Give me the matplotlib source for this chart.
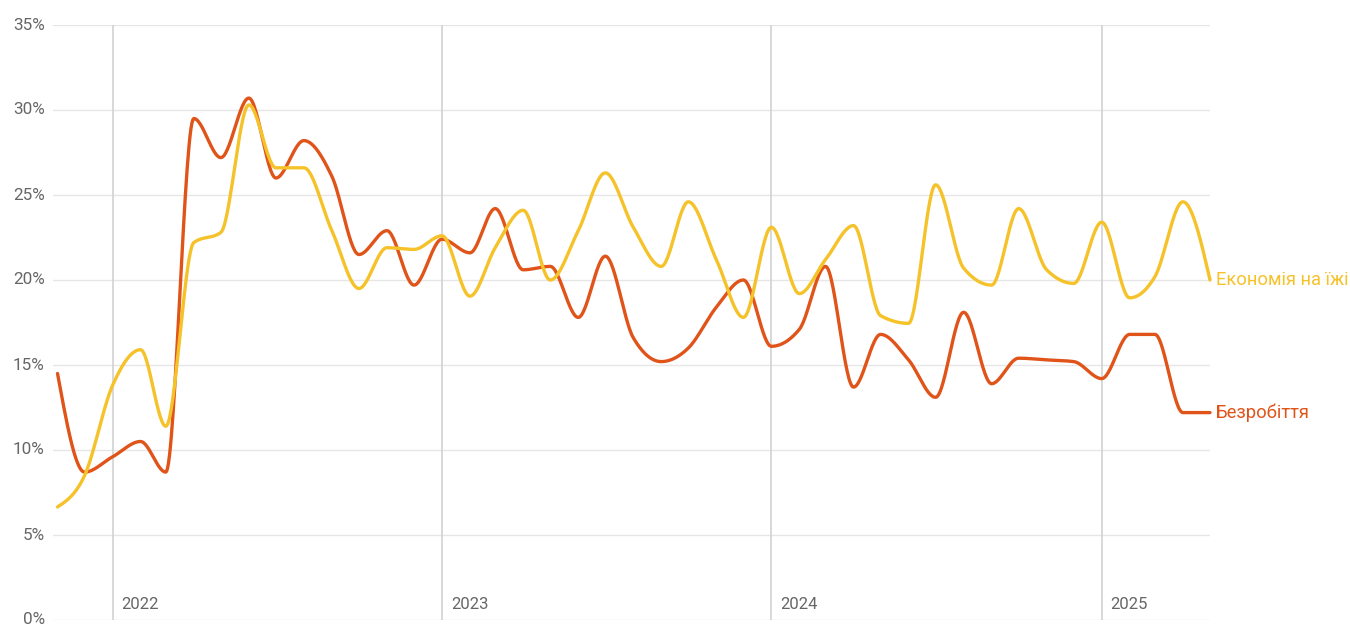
import numpy as np
import pandas as pd
import matplotlib
matplotlib.use("Agg")
import matplotlib.pyplot as plt
import matplotlib.dates as mdates

# ---- data ----
months = pd.date_range("2021-11-01", "2025-05-01", freq="MS")

unemployment = [14.5, 8.7, 9.6, 10.5, 8.7, 29.5, 27.2, 30.7, 26.0, 28.2, 26.1, 21.5, 22.9, 19.7,
                22.4, 21.6, 24.2, 20.6, 20.8, 17.8, 21.4, 16.6, 15.2, 16.0, 18.4, 20.0,
                16.1, 17.1, 20.8, 13.7, 16.8, 15.3, 13.1, 18.1, 13.9, 15.4, 15.3, 15.2,
                14.2, 16.8, 16.8, 12.2, 12.2]

food_saving = [6.65, 8.5, 13.8, 15.9, 11.4, 22.2, 22.8, 30.3, 26.6, 26.6, 22.9, 19.5, 21.9, 21.8,
               22.6, 19.05, 21.9, 24.1, 20.0, 22.9, 26.3, 23.1, 20.8, 24.6, 21.2, 17.8,
               23.1, 19.2, 21.2, 23.2, 17.9, 17.45, 25.6, 20.7, 19.7, 24.2, 20.6, 19.8,
               23.4, 18.95, 20.2, 24.6, 20.0]

series_names = ["Економія на їжі", "Безробіття"]
year_ticks = ["2022", "2023", "2024", "2025"]
y_ticks = [0, 5, 10, 15, 20, 25, 30, 35]

ORANGE = "#E0541A"
YELLOW = "#F5C22A"
TEXT_GRAY = "#666666"


def monotone_x(x, y, n=30):
    """Monotone cubic interpolation (like d3.curveMonotoneX)."""
    x = np.asarray(x, float)
    y = np.asarray(y, float)
    h = np.diff(x)
    s = np.diff(y) / h
    t = np.zeros_like(y)
    for i in range(1, len(y) - 1):
        s0, s1 = s[i - 1], s[i]
        p = (s0 * h[i] + s1 * h[i - 1]) / (h[i - 1] + h[i])
        t[i] = (np.sign(s0) + np.sign(s1)) * min(abs(s0), abs(s1), 0.5 * abs(p))
    t[0] = (3 * s[0] - t[1]) / 2
    t[-1] = (3 * s[-1] - t[-2]) / 2
    xs, ys = [], []
    for i in range(len(x) - 1):
        u = np.linspace(0, 1, n, endpoint=(i == len(x) - 2))
        x0, x1, y0, y1 = x[i], x[i + 1], y[i], y[i + 1]
        d = h[i] / 3
        px = [x0, x0 + d, x1 - d, x1]
        py = [y0, y0 + d * t[i], y1 - d * t[i + 1], y1]
        b0 = (1 - u) ** 3
        b1 = 3 * u * (1 - u) ** 2
        b2 = 3 * u ** 2 * (1 - u)
        b3 = u ** 3
        xs.append(b0 * px[0] + b1 * px[1] + b2 * px[2] + b3 * px[3])
        ys.append(b0 * py[0] + b1 * py[1] + b2 * py[2] + b3 * py[3])
    return np.concatenate(xs), np.concatenate(ys)


plt.rcParams["font.family"] = ["Roboto", "DejaVu Sans"]

fig = plt.figure(figsize=(13.5, 6.24), dpi=100)
W, H = 1350, 624
ax = fig.add_axes([53 / W, 4 / H, (1210 - 53) / W, (620 - 25) / H])

xnum = mdates.date2num(months.to_pydatetime())

ax.set_ylim(0, 35)
ax.set_xlim(mdates.date2num(pd.Timestamp("2021-10-27")), xnum[-1])

# grid
for v in y_ticks:
    ax.axhline(v, color="#e6e6e6", lw=1.0, zorder=0)
year_nums = [mdates.date2num(pd.Timestamp(f"{y}-01-01")) for y in year_ticks]
for xv in year_nums:
    ax.axvline(xv, color="#d2d2d2", lw=1.2, zorder=0.5)

for s in ax.spines.values():
    s.set_visible(False)
ax.set_xticks([])
ax.set_yticks([])

# y tick labels
for v in y_ticks:
    ax.annotate(f"{v}%", xy=(0, v), xycoords=("axes fraction", "data"),
                xytext=(-6, 0), textcoords="offset points",
                ha="right", va="center", fontsize=12.3, color=TEXT_GRAY,
                annotation_clip=False)

# year labels
for xv, lab in zip(year_nums, year_ticks):
    ax.annotate(lab, xy=(xv, 0), xycoords=("data", "axes fraction"),
                xytext=(6.5, 11), textcoords="offset points",
                ha="left", va="center", fontsize=12, color=TEXT_GRAY,
                annotation_clip=False)

# lines
for vals, col in [(unemployment, ORANGE), (food_saving, YELLOW)]:
    sx, sy = monotone_x(xnum, vals)
    ax.plot(sx, sy, color=col, lw=2.4, solid_capstyle="round",
            solid_joinstyle="round", clip_on=False, zorder=3)

# direct labels
for name, vals, col in [(series_names[0], food_saving, YELLOW),
                        (series_names[1], unemployment, ORANGE)]:
    ax.annotate(name, xy=(xnum[-1], vals[-1]), xytext=(4, 0),
                textcoords="offset points", ha="left", va="center",
                fontsize=13.2, color=col, annotation_clip=False)

fig.savefig("out.png", dpi=100, facecolor="white")
